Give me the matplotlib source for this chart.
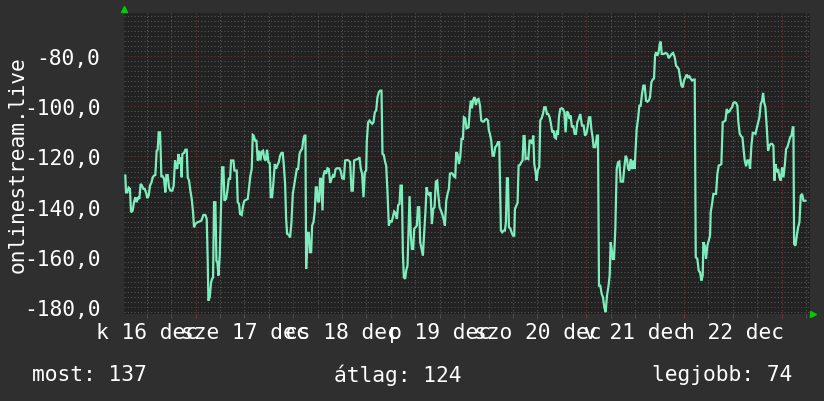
import matplotlib
matplotlib.use('Agg')
import matplotlib.pyplot as plt
from matplotlib.ticker import MultipleLocator

# hours counted from 16 dec 00:00
hours = [
    6.74, 6.91, 7.23, 7.56, 7.89, 8.14, 8.55, 8.87, 9.20, 9.53, 9.86, 10.19, 10.51, 10.84,
    11.17, 11.50, 11.83, 12.15, 12.48, 12.81, 13.14, 13.47, 13.79, 14.12, 14.45, 14.70,
    14.94, 15.27, 15.43, 15.60, 15.93, 16.25, 16.58, 16.83, 17.16, 17.48, 17.81, 18.30,
    18.63, 18.96, 19.21, 19.53, 19.78, 20.11, 20.35, 20.60, 20.76, 21.17, 21.50, 21.83,
    22.08, 22.40, 22.73, 23.06, 23.39, 23.63, 23.96, 24.45, 24.95, 25.44, 25.93, 26.42,
    26.75, 27.00, 27.16, 27.49, 27.82, 28.06, 28.31, 28.55, 28.88, 29.13, 29.37, 29.62,
    29.95, 30.28, 30.52, 30.85, 31.10, 31.51, 31.83, 32.16, 32.49, 32.74, 33.31, 33.56,
    34.12, 34.37, 34.69, 34.94, 35.35, 35.68, 36.01, 36.50, 36.83, 37.15, 37.48, 37.81,
    38.06, 38.30, 38.63, 38.96, 39.29, 39.61, 39.94, 40.27, 40.60, 40.93, 41.25, 41.58,
    41.91, 42.24, 42.48, 42.81, 43.14, 43.47, 43.80, 44.12, 44.45, 44.78, 45.11, 45.44,
    45.76, 46.01, 46.26, 46.50, 46.91, 47.24, 47.57, 47.90, 48.22, 48.55, 48.88, 49.21,
    49.54, 49.86, 50.19, 50.52, 50.77, 51.01, 51.18, 51.50, 51.83, 52.08, 52.41, 52.65,
    52.98, 53.31, 53.55, 53.80, 54.05, 54.37, 54.62, 54.87, 55.20, 55.44, 55.77, 56.10,
    56.42, 56.75, 57.08, 57.41, 57.74, 58.06, 58.39, 58.72, 59.38, 59.70, 60.03, 60.44,
    60.77, 61.26, 61.59,
    61.99, 62.32, 62.65, 62.97, 63.47, 63.96, 64.29, 64.61, 64.94, 65.27, 65.60, 65.93,
    66.09, 66.42, 66.75, 67.07, 67.40, 67.73, 68.06, 68.39, 68.71, 69.04, 69.37, 69.70,
    69.94, 70.27, 70.60, 70.85, 71.17, 71.50, 71.83, 72.16, 72.49, 72.81, 73.14, 73.47,
    73.80, 74.13, 74.37, 74.70, 74.95, 75.19, 75.52, 75.77, 76.09, 76.34, 76.59, 76.91,
    77.16, 77.49, 77.73, 78.06, 78.39, 78.64, 78.96, 79.21, 79.54, 79.87, 80.19, 80.52,
    80.77, 81.10, 81.42, 81.75, 82.08, 82.41, 82.73, 83.06, 83.39, 83.64, 83.97, 84.29,
    84.62, 84.95, 85.28, 85.61, 85.93, 86.26, 86.51, 86.83, 87.16, 87.49, 87.82, 88.06,
    88.39, 88.72, 89.05, 89.37, 89.70, 89.95,
    90.27, 90.60, 91.09, 91.42, 91.66, 91.91, 92.24, 92.57, 92.89, 93.22, 93.55, 93.88,
    94.21, 94.53, 94.86, 95.19, 95.52, 95.85, 96.09, 96.34, 96.67, 96.99, 97.32, 97.65,
    97.98, 98.31, 98.63, 98.80, 99.04, 99.37, 99.70, 100.03, 100.27, 100.52, 100.77,
    101.01, 101.34, 101.67, 102.00, 102.32, 102.49, 102.82, 103.14, 103.39, 103.72,
    104.05, 104.37, 104.62, 104.87, 105.11, 105.44, 105.77, 106.10, 106.42, 106.75,
    107.00, 107.24, 107.57, 107.82, 108.14, 108.47, 108.71, 109.04, 109.37, 109.70,
    110.03, 110.35, 110.68, 111.01, 111.34, 111.66, 111.99, 112.24, 112.57, 112.81,
    113.06, 113.30, 113.63, 113.96, 114.29, 114.62, 114.94, 115.27, 115.60, 115.93,
    116.17, 116.50, 116.83, 117.16, 117.48, 117.81, 118.14,
    118.55, 118.96, 119.37, 119.70, 120.03, 120.35, 120.68, 121.01, 121.26, 121.58,
    121.83, 122.24, 122.65, 122.90, 123.14, 123.47, 123.80, 124.13, 124.45, 124.78,
    125.11, 125.44, 125.77, 126.01, 126.26, 126.50, 126.83, 127.16, 127.49, 127.82,
    128.14, 128.47, 129.05, 129.37, 129.70, 130.03, 130.28, 130.60, 130.93, 131.26,
    131.59, 131.92, 132.08, 132.41, 132.74, 133.06, 133.39, 133.72, 134.05, 134.38,
    134.70, 135.03, 135.36, 135.69, 136.02, 136.34, 136.67, 136.92, 137.16, 137.49,
    137.82, 138.07, 138.31, 138.56, 139.05, 139.54, 139.95, 140.28, 140.61, 141.02,
    141.35, 141.76, 142.08, 142.41, 142.74, 143.07, 143.40, 143.72, 144.05, 144.38,
    144.71, 145.03, 145.36, 145.69, 146.02, 146.34, 146.67, 146.92,
    147.32, 147.65, 147.98, 148.31, 148.63, 148.80, 149.13, 149.45, 149.78, 150.11,
    150.44, 150.60, 150.93, 151.26, 151.59, 151.91, 152.24, 152.57, 152.90, 153.22,
    153.55, 153.88, 154.21, 154.54, 154.86, 155.19, 155.52, 155.85, 156.17, 156.50,
    156.83, 157.16, 157.40, 157.73, 158.06, 158.39, 158.72, 158.96, 159.29, 159.62,
    159.95, 160.27, 160.60, 160.93, 161.26, 161.59, 161.91, 162.24, 162.57, 162.90,
    163.23, 163.47, 163.72, 164.04, 164.37, 164.70, 165.03, 165.36, 165.68, 166.01,
    166.26, 166.51, 166.83, 167.16, 167.49, 167.82, 168.14, 168.47, 168.80, 169.13,
    169.45, 169.78, 170.11, 170.44, 170.77, 170.93, 171.09, 171.42, 171.75, 172.08,
    172.40, 172.73, 173.06, 173.39, 173.88,
]
signal = [
    -127.6, -134.3, -134.3, -132.4, -132.9, -142.2, -141.6, -138.2, -136.2, -138.2, -136.2, -136.9, -130.9, -131.6,
    -132.9, -132.9, -134.3, -136.6, -135.6, -131.6, -130.5, -128.3, -127.6, -127.4, -117.7, -117.3,
    -110.4, -110.4, -117.7, -127.9, -127.9, -128.9, -134.3, -127.4, -127.4, -132.3, -133.6, -133.6,
    -131.6, -121.6, -124.3, -124.9, -119.0, -123.0, -120.3, -128.3, -119.0, -118.6, -117.3, -117.3,
    -128.3, -129.6, -133.6, -136.9, -142.2, -148.2, -146.9, -146.2, -145.9, -145.5, -143.3, -143.3,
    -144.9, -162.1, -177.4, -176.0, -170.1, -168.8, -168.1, -138.2, -138.2, -161.5, -162.1, -167.4,
    -159.5, -138.2, -124.3, -124.3, -137.6, -136.9, -133.6, -128.9, -128.9, -121.6, -121.6, -125.6,
    -125.6, -138.2, -138.9, -142.9, -143.3, -139.6, -137.6, -137.2, -136.9, -132.3, -127.6, -125.0,
    -111.4, -111.7, -113.7, -113.7, -121.6, -117.7, -121.6, -118.1, -117.7, -121.0, -121.6, -117.3,
    -122.3, -122.6, -136.2, -136.2, -130.3, -123.0, -124.9, -123.4, -122.3, -119.7, -118.6, -118.6,
    -124.9, -130.9, -144.9, -150.8, -151.2, -152.2, -146.2, -134.9, -131.6, -128.3, -125.0, -125.0,
    -119.0, -117.7, -117.0, -113.0, -111.7, -111.7, -164.8, -150.4, -150.4, -158.1, -158.1, -147.5,
    -146.2, -141.5, -132.3, -132.3, -137.9, -137.9, -128.9, -128.9, -141.5, -127.6, -125.6, -126.9,
    -124.7, -125.0, -130.5, -128.9, -127.6, -128.3, -125.2, -124.7, -124.7, -126.0, -128.7, -128.9,
    -121.6, -121.4, -121.6,
    -122.3, -133.6, -133.6, -121.6, -121.2, -121.0, -120.3, -124.9, -126.9, -136.2, -126.3, -125.6,
    -113.7, -106.4, -105.7, -106.4, -107.0, -106.4, -102.4, -101.7, -96.4, -94.4, -93.8, -93.8,
    -119.0, -119.4, -122.3, -123.6, -134.2, -147.5, -145.5, -146.2, -144.2, -141.9, -142.5, -144.9,
    -139.3, -138.9, -131.6, -131.6, -158.1, -168.1, -168.7, -165.4, -163.4, -149.5, -135.8, -151.5,
    -156.8, -156.8, -148.8, -148.2, -147.5, -140.2, -140.2, -154.1, -156.8, -159.5, -150.2, -141.5,
    -132.3, -134.9, -135.3, -134.2, -146.9, -140.9, -140.2, -130.0, -129.6, -134.9, -140.2, -141.5,
    -142.9, -144.9, -147.5, -137.6, -134.9, -132.9, -126.9, -126.6, -126.9, -127.9, -128.3, -118.3,
    -119.0, -123.0, -120.3, -113.0, -113.0, -104.4,
    -104.8, -108.8, -108.4, -101.1, -97.8, -100.8, -97.4, -96.4, -99.5, -97.4, -97.1, -99.5,
    -105.7, -106.1, -106.1, -105.3, -105.1, -105.7, -109.7, -111.0, -113.7, -119.7, -119.7, -116.3,
    -115.7, -114.3, -114.3, -128.9, -149.5, -150.2, -149.5, -149.5, -146.2, -128.7, -128.7,
    -148.2, -148.6, -150.2, -151.5, -151.5, -140.9, -139.6, -138.5, -123.6, -123.4,
    -122.3, -121.6, -111.9, -111.9, -121.0, -120.7, -121.0, -113.7, -113.7, -115.0,
    -111.7, -123.0, -126.3, -129.6, -125.2, -124.3, -105.7, -104.8, -103.1, -100.4,
    -100.4, -103.1, -103.1, -104.4, -107.0, -110.4, -109.7, -112.4, -112.8, -109.7,
    -111.4, -104.4, -101.1, -100.8, -101.1, -102.4, -110.4, -102.1, -102.7, -105.1,
    -103.7, -108.4, -107.7, -111.0, -111.0, -106.4, -105.1,
    -103.1, -107.7, -107.7, -111.7, -111.0, -108.4, -104.4, -104.4, -109.0, -112.4,
    -116.3, -116.3, -111.7, -111.7, -171.4, -171.4, -174.7, -176.0, -180.0, -182.0,
    -175.4, -172.1, -167.4, -154.1, -156.8, -160.8, -160.8, -148.8, -125.0, -122.3,
    -122.0, -130.0, -130.0, -124.3, -119.7, -121.0, -124.7, -125.6, -121.0, -125.0,
    -121.6, -125.0, -119.0, -109.0, -105.1, -99.8, -99.8, -95.1, -91.8, -91.8,
    -97.8, -98.2, -97.8, -96.4, -90.5, -89.4, -88.9, -79.9, -78.5, -79.9,
    -78.3, -75.2, -74.3, -79.2, -79.2, -78.8, -79.2, -80.9, -80.1, -79.2,
    -78.8, -80.5, -83.8, -84.5, -85.2, -88.5, -91.8, -92.5, -89.8, -88.5,
    -87.4, -88.5, -88.1, -89.1, -89.8, -89.4, -89.4, -160.1,
    -160.8, -165.4, -166.1, -169.4, -167.4, -154.1, -155.5, -160.8, -155.5, -153.5,
    -151.5, -142.2, -138.9, -134.9, -134.9, -134.9, -126.9, -123.6, -123.4, -123.0,
    -106.4, -106.1, -105.7, -101.1, -102.4, -102.1, -101.1, -100.4, -98.7, -98.4,
    -98.7, -99.8, -106.4, -111.0, -111.9, -112.4, -117.7, -121.6, -123.9, -121.6,
    -121.6, -124.9, -115.7, -110.6, -110.6, -111.0, -108.8, -106.4, -104.4, -99.1,
    -97.8, -94.7, -98.4, -100.4, -108.4, -117.7, -115.7, -115.0, -115.0, -115.7,
    -129.6, -123.0, -126.3, -125.0, -128.3, -129.6, -124.3, -128.3, -123.6, -117.0,
    -116.3, -114.3, -112.4, -111.7, -108.4, -108.4, -154.8, -155.5, -151.5, -148.2,
    -146.2, -135.6, -134.9, -137.6, -137.6,
]

day_labels = ['k 16 dec', 'sze 17 dec', 'cs 18 dec', 'p 19 dec',
              'szo 20 dec', 'v 21 dec', 'h 22 dec']
day_noons = [12, 36, 60, 84, 108, 132, 156]
y_ticks = [-180, -160, -140, -120, -100, -80]
footer = ['most: 137', 'átlag: 124', 'legjobb: 74']

BG = '#2f2f2f'
PLOT_BG = '#222222'
LINE = '#7eedbe'
MINOR = '#555555'
MAJOR = '#743434'
FONT = 'DejaVu Sans Mono'
FS = 15.3

W, H = 824, 402
fig = plt.figure(figsize=(W / 100, H / 100), dpi=100, facecolor=BG)
# plot area in pixels: x 124..810, y 14..315
ax = fig.add_axes([124 / W, 1 - 315 / H, (810 - 124) / W, (315 - 14) / H])
ax.set_facecolor(PLOT_BG)

ax.set_xlim(6.42, 175.0)
ax.set_ylim(-182.7, -62.9)

# grid: dotted gray minor, dotted red major
dots = (0, (1, 2))
ax.yaxis.set_major_locator(MultipleLocator(20))
ax.yaxis.set_minor_locator(MultipleLocator(2))
ax.xaxis.set_major_locator(MultipleLocator(24))
ax.xaxis.set_minor_locator(MultipleLocator(6))
ax.grid(which='minor', color=MINOR, linestyle=dots, linewidth=0.8)
ax.grid(which='major', color=MAJOR, linestyle=dots, linewidth=0.8)
ax.set_axisbelow(True)

ax.plot(hours, signal, color=LINE, linewidth=1.6, solid_joinstyle='miter', zorder=3)

for s in ax.spines.values():
    s.set_visible(False)

ax.set_yticks(y_ticks)
ax.set_yticklabels([f'{v:.1f}'.replace('.', ',') for v in y_ticks],
                   fontfamily=FONT, fontsize=FS, color='white')
ax.tick_params(axis='y', which='both', length=0, pad=17)
ax.tick_params(axis='x', which='both', direction='out', length=3,
               color=MINOR, labelbottom=False)
ax.tick_params(axis='x', which='major', color=MAJOR)

for noon, lab in zip(day_noons, day_labels):
    ax.text(noon, -0.025, lab, transform=ax.get_xaxis_transform(),
            ha='center', va='top', fontfamily=FONT, fontsize=FS,
            color='white', clip_on=False)

# vertical axis title
fig.text(18 / W, 1 - 165 / H, 'onlinestream.live', rotation=90,
         fontfamily=FONT, fontsize=FS, color='white',
         ha='center', va='center')

# little green arrows at the axis ends
ax.plot([0], [1.012], marker='^', color='#00cc00', markersize=5,
        transform=ax.transAxes, clip_on=False)
ax.plot([1.004], [0.0], marker='>', color='#00cc00', markersize=5,
        transform=ax.transAxes, clip_on=False)

fig.text(32 / W, 1 - 375 / H, footer[0], fontfamily=FONT, fontsize=FS,
         color='white', va='center', ha='left')
fig.text(334 / W, 1 - 375 / H, footer[1], fontfamily=FONT, fontsize=FS,
         color='white', va='center', ha='left')
fig.text(792 / W, 1 - 375 / H, footer[2], fontfamily=FONT, fontsize=FS,
         color='white', va='center', ha='right')

fig.savefig('out.png', dpi=100, facecolor=BG)
